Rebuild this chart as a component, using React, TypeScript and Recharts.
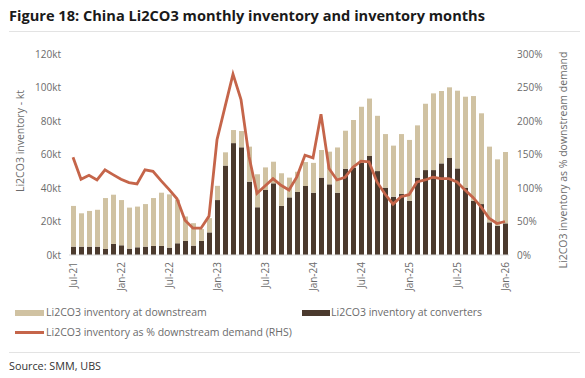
import {
  Bar,
  ComposedChart,
  Line,
  XAxis,
  YAxis
} from "recharts";

// Monthly categories, Jul-21 .. Jan-26
const months = [
  "Jul-21", "Aug-21", "Sep-21", "Oct-21", "Nov-21", "Dec-21",
  "Jan-22", "Feb-22", "Mar-22", "Apr-22", "May-22", "Jun-22",
  "Jul-22", "Aug-22", "Sep-22", "Oct-22", "Nov-22", "Dec-22",
  "Jan-23", "Feb-23", "Mar-23", "Apr-23", "May-23", "Jun-23",
  "Jul-23", "Aug-23", "Sep-23", "Oct-23", "Nov-23", "Dec-23",
  "Jan-24", "Feb-24", "Mar-24", "Apr-24", "May-24", "Jun-24",
  "Jul-24", "Aug-24", "Sep-24", "Oct-24", "Nov-24", "Dec-24",
  "Jan-25", "Feb-25", "Mar-25", "Apr-25", "May-25", "Jun-25",
  "Jul-25", "Aug-25", "Sep-25", "Oct-25", "Nov-25", "Dec-25",
  "Jan-26"
];

// kt at converters (bottom, dark)
const converters = [
  5, 5, 5, 5, 3.6, 6.6, 5.8, 3.8, 4.6, 5, 5.4, 5.4,
  4.4, 7, 8.4, 5.6, 8.4, 13.5, 32.8, 53.4, 66.8, 64.3, 43.8, 28.5,
  38.8, 42.8, 29.3, 34.4, 37.6, 41.2, 37.2, 46.2, 42.2, 37.2, 51.5, 52.2,
  55.2, 59.1, 50.1, 40.2, 34.8, 36.4, 32.4, 46.2, 50.7, 50.7, 54.7, 57.9,
  51.7, 40.2, 32.4, 30.4, 19.5, 17.5, 18.9
];

// kt at downstream (stacked on top, tan)
const downstream = [
  24.3, 19.9, 21.3, 22, 30.4, 29.4, 27, 24.5, 24.3, 25.4, 28.6, 31.8,
  31.8, 26, 14.6, 13.4, 7.1, 8.5, 8.5, 7.9, 7.8, 9.7, 20.9, 19.7,
  13.5, 12.9, 19.5, 11.8, 12.1, 14.3, 17.8, 16.5, 19.5, 27, 22.7, 28.4,
  33.3, 34.3, 33, 32, 30.5, 35.8, 36.3, 31.2, 39.6, 45.8, 43.2, 42.2,
  46.4, 54.3, 62.5, 54.2, 45.2, 39.6, 42.6
];

// inventory as % of downstream demand (RHS)
const ratioPct = [
  146, 113, 119, 112, 127, 120, 113, 108, 106, 127, 125, 111,
  98, 84, 52, 40, 40, 58, 172, 221, 270, 232, 147, 92,
  103, 114, 104, 97, 117, 149, 145, 210, 129, 112, 116, 131,
  140, 139, 109, 91, 76, 87, 90, 109, 112, 116, 114, 114,
  109, 97, 86, 72, 55, 47, 50
];

const leftTicks = [0, 20, 40, 60, 80, 100, 120];
const rightTicks = [0, 50, 100, 150, 200, 250, 300];

const TAN = "#d0c2a2";
const DARK = "#4b3a2e";
const RED = "#c5654a";
const GREY = "#6b6b6b";
const FONT = "'Open Sans', sans-serif";

const data = months.map((m, i) => ({
  month: m,
  converters: converters[i],
  downstream: downstream[i],
  ratio: ratioPct[i]
}));

function MonthTick({ x, y, payload }: { x?: number; y?: number; payload?: { value: string } }) {
  const tx = x ?? 0;
  const ty = (y ?? 0) - 1;
  return (
    <text
      x={tx}
      y={ty}
      transform={`rotate(-90, ${tx}, ${ty})`}
      textAnchor="end"
      dy={3.5}
      fontSize={10}
      fill={GREY}
      fontFamily={FONT}
    >
      {payload?.value}
    </text>
  );
}

export default function App() {
  return (
    <div
      style={{
        position: "absolute",
        left: 0,
        top: 0,
        width: 585,
        height: 378,
        background: "#fff",
        fontFamily: FONT,
        overflow: "hidden"
      }}
    >
      <div style={{ position: "absolute", left: 9, top: 5, fontSize: 14.6, fontWeight: 700, color: "#1a1a1a", whiteSpace: "nowrap" }}>
        Figure 18: China Li2CO3 monthly inventory and inventory months
      </div>
      <div style={{ position: "absolute", left: 9, top: 31, width: 571, height: 1, background: "#e3e3e3" }} />

      <div style={{ position: "absolute", left: 0, top: 0 }}>
        <ComposedChart width={585} height={300} data={data} margin={{ top: 54, right: 0, bottom: 5, left: 0 }}>
          <XAxis
            dataKey="month"
            interval={5}
            height={40}
            tickLine={false}
            axisLine={{ stroke: "#d9d9d9" }}
            tick={<MonthTick />}
          />
          <YAxis
            yAxisId="left"
            width={69}
            domain={[0, 120]}
            ticks={leftTicks}
            tickLine={false}
            axisLine={false}
            tickFormatter={(v) => `${v}kt`}
            tick={{ fontSize: 10, fill: GREY, fontFamily: FONT }}
          />
          <YAxis
            yAxisId="right"
            orientation="right"
            width={76}
            domain={[0, 300]}
            ticks={rightTicks}
            tickLine={false}
            axisLine={false}
            tickFormatter={(v) => `${v}%`}
            tick={{ fontSize: 10, fill: GREY, fontFamily: FONT, textAnchor: "start" }}
          />
          <Bar yAxisId="left" dataKey="converters" stackId="inv" fill={DARK} barSize={5} isAnimationActive={false} />
          <Bar yAxisId="left" dataKey="downstream" stackId="inv" fill={TAN} barSize={5} isAnimationActive={false} />
          <Line
            yAxisId="right"
            type="linear"
            dataKey="ratio"
            stroke={RED}
            strokeWidth={2.8}
            dot={false}
            isAnimationActive={false}
          />
        </ComposedChart>
      </div>

      {/* axis titles */}
      <div style={{ position: "absolute", left: 20, top: 141, width: 0, height: 0 }}>
        <div style={{ position: "absolute", transform: "translate(-50%, -50%) rotate(-90deg)", whiteSpace: "nowrap", fontSize: 10.5, color: GREY }}>
          Li2CO3 inventory - kt
        </div>
      </div>
      <div style={{ position: "absolute", left: 563, top: 160, width: 0, height: 0 }}>
        <div style={{ position: "absolute", transform: "translate(-50%, -50%) rotate(-90deg)", whiteSpace: "nowrap", fontSize: 10.5, color: GREY }}>
          Li2CO3 inventory as % downstream demand
        </div>
      </div>

      {/* legend */}
      <div style={{ position: "absolute", left: 15, top: 310, width: 29, height: 6, background: TAN }} />
      <div style={{ position: "absolute", left: 46, top: 305, fontSize: 10.5, color: GREY, whiteSpace: "nowrap" }}>
        Li2CO3 inventory at downstream
      </div>
      <div style={{ position: "absolute", left: 302, top: 310, width: 28, height: 6, background: DARK }} />
      <div style={{ position: "absolute", left: 331, top: 305, fontSize: 10.5, color: GREY, whiteSpace: "nowrap" }}>
        Li2CO3 inventory at converters
      </div>
      <div style={{ position: "absolute", left: 15, top: 331, width: 29, height: 3, background: RED }} />
      <div style={{ position: "absolute", left: 46, top: 325, fontSize: 10.5, color: GREY, whiteSpace: "nowrap" }}>
        Li2CO3 inventory as % downstream demand (RHS)
      </div>

      <div style={{ position: "absolute", left: 9, top: 352, width: 571, height: 1, background: "#e3e3e3" }} />
      <div style={{ position: "absolute", left: 9, top: 358, fontSize: 10.8, color: "#333", whiteSpace: "nowrap" }}>
        Source: SMM, UBS
      </div>
    </div>
  );
}
